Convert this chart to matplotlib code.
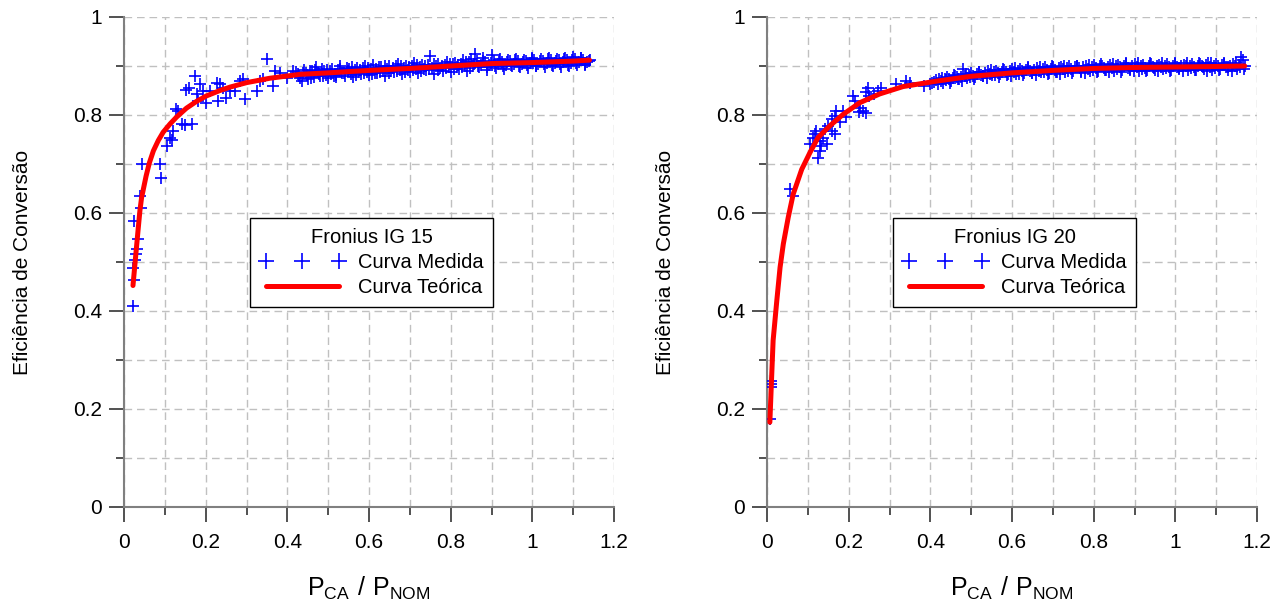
import matplotlib.pyplot as plt
from matplotlib.ticker import MultipleLocator, FormatStrFormatter

plt.rcParams['font.family'] = ['Liberation Sans', 'DejaVu Sans']
plt.rcParams['mathtext.fontset'] = 'custom'
plt.rcParams['mathtext.rm'] = 'Liberation Sans'

# ---- Fronius IG 15 : measured points ----
ig15_x_low = [0.021, 0.025, 0.023, 0.027, 0.029, 0.031, 0.035, 0.025, 0.041, 0.038,
              0.043, 0.087, 0.090, 0.105, 0.113, 0.117, 0.121, 0.127, 0.133, 0.141,
              0.149, 0.166, 0.153, 0.158, 0.174, 0.186, 0.178, 0.194, 0.182, 0.202,
              0.211, 0.227, 0.235, 0.231, 0.243, 0.251, 0.260, 0.272, 0.284, 0.296,
              0.292, 0.325, 0.333, 0.349, 0.341, 0.366, 0.370, 0.382, 0.398, 0.415]
ig15_y_low = [0.410, 0.463, 0.488, 0.505, 0.516, 0.526, 0.546, 0.584, 0.611, 0.635,
              0.700, 0.700, 0.672, 0.737, 0.754, 0.750, 0.767, 0.812, 0.808, 0.781,
              0.780, 0.781, 0.852, 0.856, 0.880, 0.864, 0.842, 0.849, 0.829, 0.825,
              0.849, 0.866, 0.863, 0.829, 0.856, 0.835, 0.849, 0.849, 0.869, 0.832,
              0.873, 0.849, 0.869, 0.914, 0.873, 0.859, 0.890, 0.886, 0.876, 0.890]

ig15_x_a = [0.42, 0.43, 0.44, 0.45, 0.46, 0.47, 0.48, 0.49, 0.50, 0.51, 0.52, 0.53,
            0.54, 0.55, 0.56, 0.57, 0.58, 0.59, 0.60, 0.61, 0.62, 0.63, 0.64, 0.65,
            0.66, 0.67, 0.68, 0.69, 0.70, 0.71, 0.72, 0.73, 0.74, 0.75, 0.76, 0.77,
            0.78, 0.79, 0.80, 0.81, 0.82, 0.83, 0.84, 0.85, 0.86, 0.87, 0.88, 0.89,
            0.90, 0.91, 0.92, 0.93, 0.94, 0.95, 0.96, 0.97, 0.98, 0.99, 1.00, 1.01,
            1.02, 1.03, 1.04, 1.05, 1.06, 1.07, 1.08, 1.09, 1.10, 1.11, 1.12, 1.13, 1.14]
ig15_y_a = [0.887, 0.876, 0.892, 0.874, 0.889, 0.897, 0.879, 0.890, 0.875, 0.894, 0.882, 0.899,
            0.880, 0.893, 0.878, 0.896, 0.884, 0.899, 0.881, 0.902, 0.886, 0.897, 0.879, 0.900,
            0.887, 0.904, 0.883, 0.901, 0.888, 0.906, 0.885, 0.903, 0.891, 0.921, 0.884, 0.905,
            0.890, 0.908, 0.887, 0.906, 0.893, 0.912, 0.889, 0.915, 0.924, 0.897, 0.917, 0.891,
            0.922, 0.896, 0.914, 0.894, 0.912, 0.899, 0.915, 0.897, 0.913, 0.896, 0.916, 0.899,
            0.914, 0.898, 0.917, 0.900, 0.915, 0.897, 0.916, 0.901, 0.918, 0.902, 0.916, 0.903, 0.913]

ig15_x_b = [0.425, 0.435, 0.445, 0.455, 0.465, 0.475, 0.485, 0.495, 0.505, 0.515, 0.525, 0.535,
            0.545, 0.555, 0.565, 0.575, 0.585, 0.595, 0.605, 0.615, 0.625, 0.635, 0.645, 0.655,
            0.665, 0.675, 0.685, 0.695, 0.705, 0.715, 0.725, 0.735, 0.745, 0.755, 0.765, 0.775,
            0.785, 0.795, 0.805, 0.815, 0.825, 0.835, 0.845, 0.855, 0.865, 0.875, 0.885, 0.895,
            0.905, 0.915, 0.925, 0.935, 0.945, 0.955, 0.965, 0.975, 0.985, 0.995, 1.005, 1.015,
            1.025, 1.035, 1.045, 1.055, 1.065, 1.075, 1.085, 1.095, 1.105, 1.115, 1.125, 1.135]
ig15_y_b = [0.884, 0.870, 0.885, 0.890, 0.878, 0.886, 0.893, 0.882, 0.889, 0.879, 0.891, 0.886,
            0.896, 0.883, 0.892, 0.887, 0.895, 0.888, 0.893, 0.885, 0.897, 0.890, 0.894, 0.889,
            0.899, 0.891, 0.896, 0.892, 0.899, 0.893, 0.898, 0.894, 0.902, 0.895, 0.901, 0.896,
            0.903, 0.898, 0.904, 0.897, 0.905, 0.899, 0.908, 0.901, 0.910, 0.903, 0.909, 0.902,
            0.910, 0.904, 0.909, 0.903, 0.910, 0.905, 0.911, 0.904, 0.910, 0.906, 0.912, 0.905,
            0.911, 0.906, 0.912, 0.907, 0.913, 0.908, 0.912, 0.907, 0.914, 0.908, 0.913, 0.909]

ig15_x_c = [0.428, 0.438, 0.448, 0.458, 0.468, 0.478, 0.488, 0.498, 0.508, 0.518, 0.528, 0.538,
            0.548, 0.558, 0.568, 0.578, 0.588, 0.598, 0.608, 0.618, 0.628, 0.638, 0.648, 0.658,
            0.668, 0.678, 0.688, 0.698, 0.708, 0.718, 0.728, 0.738, 0.748, 0.758, 0.768, 0.778,
            0.788, 0.798, 0.808, 0.818, 0.828, 0.838, 0.848, 0.858, 0.868, 0.878, 0.888, 0.898,
            0.908, 0.918, 0.928, 0.938, 0.948, 0.958, 0.968, 0.978, 0.988, 0.998, 1.008, 1.018,
            1.028, 1.038, 1.048, 1.058, 1.068, 1.078, 1.088, 1.098, 1.108, 1.118, 1.128, 1.138]
ig15_y_c = [0.879, 0.886, 0.881, 0.875, 0.891, 0.884, 0.880, 0.892, 0.884, 0.877, 0.893, 0.885,
            0.890, 0.897, 0.881, 0.891, 0.886, 0.896, 0.884, 0.893, 0.888, 0.899, 0.886, 0.895,
            0.890, 0.901, 0.887, 0.897, 0.891, 0.902, 0.889, 0.899, 0.893, 0.904, 0.891, 0.900,
            0.895, 0.905, 0.893, 0.902, 0.897, 0.908, 0.895, 0.904, 0.900, 0.911, 0.898, 0.907,
            0.901, 0.912, 0.899, 0.908, 0.902, 0.913, 0.900, 0.909, 0.903, 0.914, 0.901, 0.910,
            0.904, 0.915, 0.902, 0.911, 0.905, 0.915, 0.903, 0.912, 0.906, 0.917, 0.904, 0.911]

# ---- Fronius IG 15 : theoretical curve ----
ig15_curve_x = [0.022, 0.029, 0.035, 0.039, 0.043, 0.054, 0.062, 0.072, 0.084, 0.096,
                0.113, 0.129, 0.153, 0.178, 0.202, 0.235, 0.260, 0.300, 0.357, 0.431,
                0.5, 0.6, 0.7, 0.8, 0.9, 1.0, 1.1, 1.14]
ig15_curve_y = [0.452, 0.516, 0.570, 0.605, 0.631, 0.675, 0.702, 0.727, 0.748, 0.765,
                0.782, 0.796, 0.814, 0.828, 0.839, 0.850, 0.857, 0.866, 0.875, 0.883,
                0.886, 0.891, 0.895, 0.900, 0.905, 0.907, 0.910, 0.912]

# ---- Fronius IG 20 : measured points ----
ig20_x_low = [0.007, 0.011, 0.011, 0.011, 0.056, 0.064, 0.105, 0.113, 0.117, 0.121,
              0.125, 0.129, 0.129, 0.133, 0.137, 0.146, 0.141, 0.150, 0.158, 0.158,
              0.166, 0.166, 0.170, 0.178, 0.186, 0.194, 0.211, 0.215, 0.225, 0.227,
              0.235, 0.243, 0.247, 0.243, 0.251, 0.263, 0.272, 0.280, 0.316, 0.341,
              0.349, 0.385, 0.398, 0.405]
ig20_y_low = [0.180, 0.258, 0.251, 0.245, 0.649, 0.635, 0.740, 0.754, 0.761, 0.768,
              0.713, 0.727, 0.747, 0.737, 0.754, 0.740, 0.771, 0.778, 0.768, 0.791,
              0.798, 0.761, 0.808, 0.785, 0.808, 0.795, 0.839, 0.829, 0.806, 0.815,
              0.808, 0.805, 0.856, 0.846, 0.839, 0.842, 0.849, 0.856, 0.863, 0.869,
              0.866, 0.859, 0.863, 0.866]

ig20_x_a = [0.41, 0.42, 0.43, 0.44, 0.45, 0.46, 0.47, 0.48, 0.49, 0.50, 0.51, 0.52,
            0.53, 0.54, 0.55, 0.56, 0.57, 0.58, 0.59, 0.60, 0.61, 0.62, 0.63, 0.64,
            0.65, 0.66, 0.67, 0.68, 0.69, 0.70, 0.71, 0.72, 0.73, 0.74, 0.75, 0.76,
            0.77, 0.78, 0.79, 0.80, 0.81, 0.82, 0.83, 0.84, 0.85, 0.86, 0.87, 0.88,
            0.89, 0.90, 0.91, 0.92, 0.93, 0.94, 0.95, 0.96, 0.97, 0.98, 0.99, 1.00,
            1.01, 1.02, 1.03, 1.04, 1.05, 1.06, 1.07, 1.08, 1.09, 1.10, 1.11, 1.12,
            1.13, 1.14, 1.15, 1.16, 1.17]
ig20_y_a = [0.868, 0.874, 0.866, 0.877, 0.870, 0.879, 0.873, 0.893, 0.876, 0.885, 0.878, 0.887,
            0.880, 0.889, 0.882, 0.890, 0.883, 0.892, 0.884, 0.893, 0.883, 0.894, 0.886, 0.895,
            0.885, 0.896, 0.887, 0.897, 0.886, 0.898, 0.888, 0.897, 0.887, 0.899, 0.889, 0.900,
            0.888, 0.901, 0.890, 0.902, 0.889, 0.901, 0.891, 0.903, 0.890, 0.902, 0.892, 0.904,
            0.891, 0.905, 0.890, 0.903, 0.892, 0.904, 0.891, 0.903, 0.893, 0.905, 0.892, 0.904,
            0.893, 0.903, 0.891, 0.905, 0.892, 0.904, 0.893, 0.906, 0.892, 0.905, 0.894, 0.904,
            0.892, 0.905, 0.893, 0.919, 0.901]

ig20_x_b = [0.415, 0.425, 0.435, 0.445, 0.455, 0.465, 0.475, 0.485, 0.495, 0.505, 0.515, 0.525,
            0.535, 0.545, 0.555, 0.565, 0.575, 0.585, 0.595, 0.605, 0.615, 0.625, 0.635, 0.645,
            0.655, 0.665, 0.675, 0.685, 0.695, 0.705, 0.715, 0.725, 0.735, 0.745, 0.755, 0.765,
            0.775, 0.785, 0.795, 0.805, 0.815, 0.825, 0.835, 0.845, 0.855, 0.865, 0.875, 0.885,
            0.895, 0.905, 0.915, 0.925, 0.935, 0.945, 0.955, 0.965, 0.975, 0.985, 0.995, 1.005,
            1.015, 1.025, 1.035, 1.045, 1.055, 1.065, 1.075, 1.085, 1.095, 1.105, 1.115, 1.125,
            1.135, 1.145, 1.155, 1.165]
ig20_y_b = [0.871, 0.869, 0.873, 0.874, 0.876, 0.877, 0.878, 0.879, 0.881, 0.880, 0.883, 0.882,
            0.885, 0.884, 0.887, 0.886, 0.888, 0.887, 0.889, 0.888, 0.890, 0.889, 0.891, 0.890,
            0.892, 0.890, 0.893, 0.891, 0.894, 0.892, 0.895, 0.893, 0.896, 0.894, 0.897, 0.895,
            0.897, 0.894, 0.898, 0.896, 0.899, 0.895, 0.898, 0.896, 0.899, 0.897, 0.900, 0.896,
            0.899, 0.897, 0.900, 0.896, 0.899, 0.898, 0.901, 0.897, 0.900, 0.898, 0.901, 0.897,
            0.900, 0.899, 0.901, 0.898, 0.900, 0.899, 0.902, 0.898, 0.901, 0.899, 0.902, 0.898,
            0.901, 0.899, 0.902, 0.913]

ig20_x_c = [0.418, 0.428, 0.438, 0.448, 0.458, 0.468, 0.478, 0.488, 0.498, 0.508, 0.518, 0.528,
            0.538, 0.548, 0.558, 0.568, 0.578, 0.588, 0.598, 0.608, 0.618, 0.628, 0.638, 0.648,
            0.658, 0.668, 0.678, 0.688, 0.698, 0.708, 0.718, 0.728, 0.738, 0.748, 0.758, 0.768,
            0.778, 0.788, 0.798, 0.808, 0.818, 0.828, 0.838, 0.848, 0.858, 0.868, 0.878, 0.888,
            0.898, 0.908, 0.918, 0.928, 0.938, 0.948, 0.958, 0.968, 0.978, 0.988, 0.998, 1.008,
            1.018, 1.028, 1.038, 1.048, 1.058, 1.068, 1.078, 1.088, 1.098, 1.108, 1.118, 1.128,
            1.138, 1.148, 1.158, 1.168]
ig20_y_c = [0.864, 0.876, 0.871, 0.866, 0.881, 0.874, 0.870, 0.884, 0.877, 0.873, 0.888, 0.879,
            0.876, 0.891, 0.881, 0.878, 0.894, 0.882, 0.880, 0.896, 0.884, 0.881, 0.897, 0.885,
            0.882, 0.898, 0.887, 0.883, 0.899, 0.888, 0.884, 0.900, 0.889, 0.885, 0.901, 0.890,
            0.886, 0.903, 0.891, 0.887, 0.904, 0.892, 0.888, 0.905, 0.893, 0.888, 0.906, 0.894,
            0.889, 0.906, 0.894, 0.889, 0.907, 0.895, 0.890, 0.906, 0.895, 0.889, 0.907, 0.896,
            0.890, 0.906, 0.896, 0.891, 0.907, 0.897, 0.890, 0.906, 0.896, 0.891, 0.907, 0.897,
            0.890, 0.906, 0.897, 0.893]

# ---- Fronius IG 20 : theoretical curve ----
ig20_curve_x = [0.007, 0.011, 0.015, 0.024, 0.032, 0.040, 0.052, 0.064, 0.085, 0.105,
                0.125, 0.154, 0.186, 0.227, 0.276, 0.333, 0.414,
                0.5, 0.6, 0.7, 0.8, 0.9, 1.0, 1.1, 1.17]
ig20_curve_y = [0.173, 0.258, 0.340, 0.421, 0.489, 0.537, 0.591, 0.638, 0.689, 0.723,
                0.754, 0.778, 0.801, 0.825, 0.843, 0.858, 0.869,
                0.879, 0.886, 0.891, 0.895, 0.897, 0.898, 0.899, 0.900]

panels = [
    ("Fronius IG 15", [ig15_x_low, ig15_x_a, ig15_x_b, ig15_x_c],
     [ig15_y_low, ig15_y_a, ig15_y_b, ig15_y_c], ig15_curve_x, ig15_curve_y),
    ("Fronius IG 20", [ig20_x_low, ig20_x_a, ig20_x_b, ig20_x_c],
     [ig20_y_low, ig20_y_a, ig20_y_b, ig20_y_c], ig20_curve_x, ig20_curve_y),
]

fig = plt.figure(figsize=(12.86, 6.13), dpi=100)
lefts = [124 / 1286, 767 / 1286]

for left, (title, xs, ys, cx, cy) in zip(lefts, panels):
    ax = fig.add_axes([left, 106 / 613, 490 / 1286, 490 / 613])
    mx = sum(xs, [])
    my = sum(ys, [])
    ax.plot(mx, my, linestyle='none', marker='+', color='#0000ff',
            markersize=8, markeredgewidth=1.2, label='Curva Medida', zorder=3)
    ax.plot(cx, cy, color='#ff0000', linewidth=3.6, solid_capstyle='round',
            label='Curva Teórica', zorder=4)

    ax.set_xlim(0, 1.2)
    ax.set_ylim(0, 1)
    ax.xaxis.set_major_locator(MultipleLocator(0.2))
    ax.xaxis.set_minor_locator(MultipleLocator(0.1))
    ax.yaxis.set_major_locator(MultipleLocator(0.2))
    ax.yaxis.set_minor_locator(MultipleLocator(0.1))
    ax.xaxis.set_major_formatter(FormatStrFormatter('%g'))
    ax.yaxis.set_major_formatter(FormatStrFormatter('%g'))

    ax.set_axisbelow(True)
    ax.grid(True, which='both', color='#c0c0c0', linestyle=(0, (5.5, 3.5)), linewidth=1.0)

    for s in ['top', 'right']:
        ax.spines[s].set_visible(False)
    for s in ['left', 'bottom']:
        ax.spines[s].set_color('#808080')
        ax.spines[s].set_linewidth(1.5)

    ax.tick_params(which='major', direction='out', length=11, width=1.2,
                   color='#333333', labelsize=15)
    ax.tick_params(which='minor', direction='out', length=5.5, width=1.2, color='#333333')
    ax.tick_params(axis='x', which='major', pad=8)
    ax.tick_params(axis='y', which='major', pad=5)

    ax.set_ylabel('Eficiência de Conversão', fontsize=15, labelpad=29)
    ax.set_xlabel(r'$\mathregular{P_{CA}\ /\ P_{NOM}}$', fontsize=18, labelpad=16)

    leg = ax.legend(title=title, loc='upper left', bbox_to_anchor=(0.257, 0.59),
                    borderaxespad=0, fontsize=14.5, title_fontsize=14.5, numpoints=3,
                    markerscale=1.4, handlelength=4.2, handletextpad=0.65,
                    labelspacing=0.3, borderpad=0.5, fancybox=False, framealpha=1,
                    edgecolor='black')
    leg.get_frame().set_linewidth(1.0)

fig.savefig('out.png', dpi=100)
